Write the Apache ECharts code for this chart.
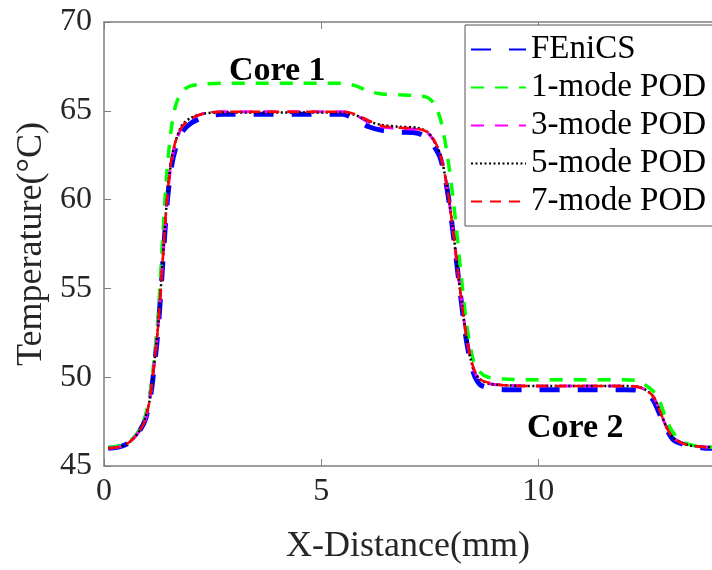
<!DOCTYPE html>
<html>
<head>
<meta charset="utf-8">
<script src="https://cdn.jsdelivr.net/npm/echarts@6/dist/echarts.min.js"></script>
<style>html,body{margin:0;padding:0;background:#fff}#c{width:712px;height:570px}</style>
</head>
<body>
<div id="c"></div>
<script>
const xs = [0.1, 0.3, 0.5, 0.7, 0.85, 0.95, 1.05, 1.15, 1.25, 1.35, 1.45, 1.55, 1.65, 1.8, 2.0, 2.3, 2.7, 3.5, 4.5, 5.5, 5.8, 6.1, 6.4, 6.8, 7.2, 7.45, 7.6, 7.75, 7.9, 8.05, 8.2, 8.35, 8.5, 8.65, 8.85, 9.2, 10, 11, 12, 12.3, 12.5, 12.65, 12.8, 12.95, 13.1, 13.3, 13.5, 13.7, 13.9, 14.0];

const fenics = [46.0, 46.05, 46.2, 46.6, 47.1, 47.6, 48.6, 50.4, 52.8, 56.3, 59.7, 61.8, 62.9, 63.8, 64.3, 64.65, 64.8, 64.8, 64.8, 64.8, 64.5, 64.1, 63.9, 63.8, 63.75, 63.45, 63.0, 62.3, 60.6, 57.9, 54.8, 52.0, 50.3, 49.6, 49.4, 49.3, 49.3, 49.3, 49.3, 49.25, 49.05, 48.7, 47.9, 47.1, 46.5, 46.25, 46.1, 46.05, 46.0, 46.0];

const pod1 = [46.05, 46.1, 46.25, 46.65, 47.2, 47.8, 48.9, 50.9, 53.6, 57.8, 61.6, 64.0, 65.3, 66.1, 66.4, 66.5, 66.55, 66.55, 66.55, 66.55, 66.4, 66.1, 65.95, 65.9, 65.85, 65.75, 65.4, 64.5, 62.6, 59.8, 56.3, 53.0, 51.0, 50.3, 50.0, 49.9, 49.85, 49.85, 49.85, 49.8, 49.5, 49.2, 48.6, 47.6, 46.9, 46.4, 46.2, 46.1, 46.05, 46.05];

const pod3 = [46.0, 46.05, 46.2, 46.6, 47.1, 47.6, 48.7, 50.6, 53.0, 56.5, 59.9, 62.1, 63.2, 64.1, 64.55, 64.85, 64.95, 64.95, 64.95, 64.95, 64.75, 64.35, 64.1, 64.0, 63.95, 63.75, 63.3, 62.5, 60.7, 58.0, 54.9, 52.2, 50.5, 49.85, 49.65, 49.55, 49.5, 49.5, 49.5, 49.45, 49.25, 48.9, 48.1, 47.2, 46.6, 46.3, 46.15, 46.1, 46.05, 46.05];

const pod5 = [46.0, 46.05, 46.2, 46.6, 47.1, 47.7, 48.7, 50.6, 53.0, 56.5, 60.0, 62.2, 63.3, 64.2, 64.6, 64.85, 64.9, 64.9, 64.9, 64.9, 64.75, 64.4, 64.2, 64.1, 64.05, 63.8, 63.3, 62.5, 60.7, 58.0, 54.9, 52.2, 50.5, 49.9, 49.65, 49.55, 49.5, 49.5, 49.5, 49.45, 49.25, 48.9, 48.1, 47.2, 46.6, 46.3, 46.15, 46.1, 46.05, 46.05];

const pod7 = [46.0, 46.05, 46.2, 46.6, 47.1, 47.6, 48.7, 50.6, 53.0, 56.5, 60.0, 62.2, 63.3, 64.1, 64.55, 64.85, 64.95, 64.95, 64.95, 64.95, 64.8, 64.45, 64.15, 64.05, 64.0, 63.8, 63.35, 62.5, 60.7, 58.0, 54.9, 52.2, 50.6, 49.9, 49.7, 49.55, 49.5, 49.5, 49.5, 49.45, 49.25, 48.9, 48.1, 47.2, 46.6, 46.3, 46.15, 46.1, 46.05, 46.05];

const yTicks = [45, 50, 55, 60, 65, 70];
const xTicks = [0, 5, 10];
const seriesNames = ['FEniCS', '1-mode POD', '3-mode POD', '5-mode POD', '7-mode POD'];
const notes = ['Core 1', 'Core 2'];

const FONT = '"Liberation Serif", "DejaVu Serif", serif';
const pair = arr => xs.map((x, i) => [x, arr[i]]);

const styles = [
  {color: '#0000ff', width: 5, type: [20, 18]},
  {color: '#00ff00', width: 3.5, type: [13, 11]},
  {color: '#ff00ff', width: 3, type: [13, 11]},
  {color: '#000000', width: 2.5, type: [2, 2.5]},
  {color: '#ff0000', width: 2.5, type: [11, 8]}
];
const datasets = [fenics, pod1, pod3, pod5, pod7];

const chart = echarts.init(document.getElementById('c'), null, {renderer: 'canvas'});
chart.setOption({
  animation: false,
  backgroundColor: '#ffffff',
  grid: {left: 104, right: -4, top: 22, bottom: 99, containLabel: false},
  legend: {
    orient: 'vertical',
    left: 465, top: 25,
    padding: [8, 40, 8, 5],
    itemWidth: 55, itemHeight: 12, itemGap: 5,
    backgroundColor: '#fff',
    borderColor: '#555', borderWidth: 1,
    itemStyle: {opacity: 0},
    textStyle: {fontFamily: FONT, fontSize: 33, color: '#000'},
    data: seriesNames
  },
  xAxis: [{
    type: 'value', min: 0, max: 14, interval: 5,
    name: 'X-Distance(mm)', nameLocation: 'middle', nameGap: 63,
    nameTextStyle: {fontFamily: FONT, fontSize: 36, color: '#262626'},
    axisLine: {show: true, lineStyle: {color: '#808080', width: 1.5}},
    axisTick: {show: true, inside: true, length: 7, lineStyle: {color: '#808080'}},
    axisLabel: {fontFamily: FONT, fontSize: 32, color: '#262626', margin: 10, showMaxLabel: false,
      formatter: v => xTicks.includes(v) ? String(v) : ''},
    splitLine: {show: false}
  }, {
    type: 'value', position: 'top', min: 0, max: 14, interval: 5,
    axisLine: {show: true, onZero: false, lineStyle: {color: '#808080', width: 1.5}},
    axisTick: {show: true, inside: true, length: 7, lineStyle: {color: '#808080'}},
    axisLabel: {show: false}, splitLine: {show: false}
  }],
  yAxis: {
    type: 'value', min: 45, max: 70, interval: 5,
    name: 'Temperature(°C)', nameLocation: 'middle', nameGap: 54,
    nameTextStyle: {fontFamily: FONT, fontSize: 36, color: '#262626'},
    axisLine: {show: true, lineStyle: {color: '#808080', width: 1.5}},
    axisTick: {show: true, inside: true, length: 7, lineStyle: {color: '#808080'}},
    axisLabel: {fontFamily: FONT, fontSize: 32, color: '#262626', margin: 12,
      formatter: v => yTicks.includes(v) ? String(v) : ''},
    splitLine: {show: false}
  },
  graphic: [
    {type: 'text', left: 229, top: 54, style: {text: notes[0], font: 'bold 34px ' + FONT, fill: '#000'}},
    {type: 'text', left: 527, top: 411, style: {text: notes[1], font: 'bold 34px ' + FONT, fill: '#000'}}
  ],
  series: seriesNames.map((n, i) => ({
    name: n, type: 'line', data: pair(datasets[i]), showSymbol: false, symbol: 'none',
    smooth: 0.3, xAxisIndex: 0,
    lineStyle: {color: styles[i].color, width: styles[i].width, type: styles[i].type},
    itemStyle: {color: styles[i].color}
  }))
});
</script>
</body>
</html>
